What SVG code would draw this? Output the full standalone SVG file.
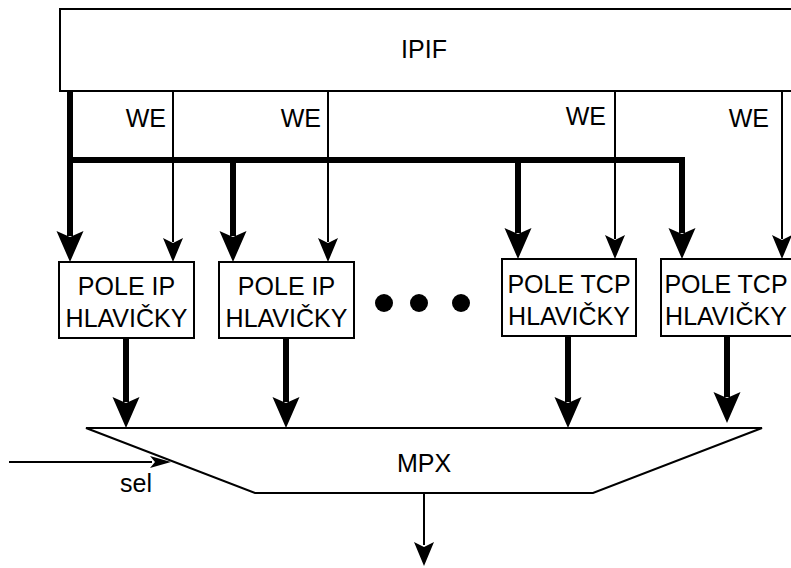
<svg xmlns="http://www.w3.org/2000/svg" xmlns:xlink="http://www.w3.org/1999/xlink" width="791" height="568" viewBox="0 0 791 568">
  <style>
    .box { fill: #ffffff; stroke: #000000; stroke-width: 2; }
    .lbl { font-family: "Liberation Sans", Arial, sans-serif; font-size: 25px; fill: #000000; }
    .mid { text-anchor: middle; }
    .end { text-anchor: end; }
    .thin { fill: none; stroke: #000000; stroke-width: 2; }
    .thick { fill: none; stroke: #000000; stroke-width: 6; stroke-linejoin: miter; }
    .head { fill: #000000; stroke: none; }
  </style>
  <defs>
    <!-- arrowheads drawn with the tip at the origin, pointing down -->
    <polygon id="headThick" class="head" points="-13.5,-31 0,0 13.5,-31 0,-25"/>
    <polygon id="headThin" class="head" points="-10,-24 0,0 10,-24 0,-19"/>
  </defs>

  <rect width="791" height="568" fill="#ffffff"/>

  <g id="ipif">
    <rect class="box" x="60" y="9" width="760" height="82"/>
    <text class="lbl mid" x="424" y="58">IPIF</text>
  </g>

  <g id="connectors">
    <!-- data bus from IPIF to the field registers -->
    <path class="thick" d="M70 91 V236"/>
    <path class="thick" d="M67 160 H682 V233"/>
    <path class="thick" d="M233 160 V236"/>
    <path class="thick" d="M518 160 V233"/>
    <use xlink:href="#headThick" transform="translate(70,262)"/>
    <use xlink:href="#headThick" transform="translate(233,262)"/>
    <use xlink:href="#headThick" transform="translate(518,259)"/>
    <use xlink:href="#headThick" transform="translate(682,259)"/>

    <!-- write enables -->
    <path class="thin" d="M173 91 V242"/>
    <path class="thin" d="M328 91 V242"/>
    <path class="thin" d="M615 91 V239"/>
    <path class="thin" d="M782 91 V239"/>
    <use xlink:href="#headThin" transform="translate(173,262)"/>
    <use xlink:href="#headThin" transform="translate(328,262)"/>
    <use xlink:href="#headThin" transform="translate(615,259)"/>
    <use xlink:href="#headThin" transform="translate(782,259)"/>
    <text class="lbl end" x="166" y="127">WE</text>
    <text class="lbl end" x="321" y="127">WE</text>
    <text class="lbl end" x="606" y="125">WE</text>
    <text class="lbl end" x="769" y="127">WE</text>

    <!-- field registers into the multiplexer -->
    <path class="thick" d="M126 338 V402"/>
    <path class="thick" d="M286 338 V402"/>
    <path class="thick" d="M568 336 V402"/>
    <path class="thick" d="M727 336 V397"/>
    <use xlink:href="#headThick" transform="translate(126,428)"/>
    <use xlink:href="#headThick" transform="translate(286,428)"/>
    <use xlink:href="#headThick" transform="translate(568,428)"/>
    <use xlink:href="#headThick" transform="translate(727,423)"/>

    <!-- select input -->
    <path class="thin" d="M9 462 H152"/>
    <polygon class="head" points="150,456 171,462 150,468 155,462"/>
    <text class="lbl" x="120" y="492">sel</text>

    <!-- output -->
    <path class="thin" d="M424 493 V545"/>
    <use xlink:href="#headThin" transform="translate(424,566)"/>
  </g>

  <g id="pole-ip-1">
    <rect class="box" x="59" y="262" width="135" height="76"/>
    <text class="lbl mid" x="126.5" y="295">POLE IP</text>
    <text class="lbl mid" x="126.5" y="327">HLAVIČKY</text>
  </g>

  <g id="pole-ip-2">
    <rect class="box" x="219" y="262" width="135" height="76"/>
    <text class="lbl mid" x="286.5" y="295">POLE IP</text>
    <text class="lbl mid" x="286.5" y="327">HLAVIČKY</text>
  </g>

  <g id="ellipsis">
    <circle cx="384" cy="303" r="9" fill="#000000"/>
    <circle cx="419" cy="303" r="9" fill="#000000"/>
    <circle cx="461" cy="303" r="9" fill="#000000"/>
  </g>

  <g id="pole-tcp-1">
    <rect class="box" x="502" y="259" width="134" height="77"/>
    <text class="lbl mid" x="569" y="293">POLE TCP</text>
    <text class="lbl mid" x="569" y="325">HLAVIČKY</text>
  </g>

  <g id="pole-tcp-2">
    <rect class="box" x="661" y="259" width="140" height="77"/>
    <text class="lbl mid" x="726" y="293">POLE TCP</text>
    <text class="lbl mid" x="726" y="325">HLAVIČKY</text>
  </g>

  <g id="mpx">
    <polygon class="box" points="86,428 762,428 593,493 255,493"/>
    <text class="lbl mid" x="424" y="472">MPX</text>
  </g>
</svg>
